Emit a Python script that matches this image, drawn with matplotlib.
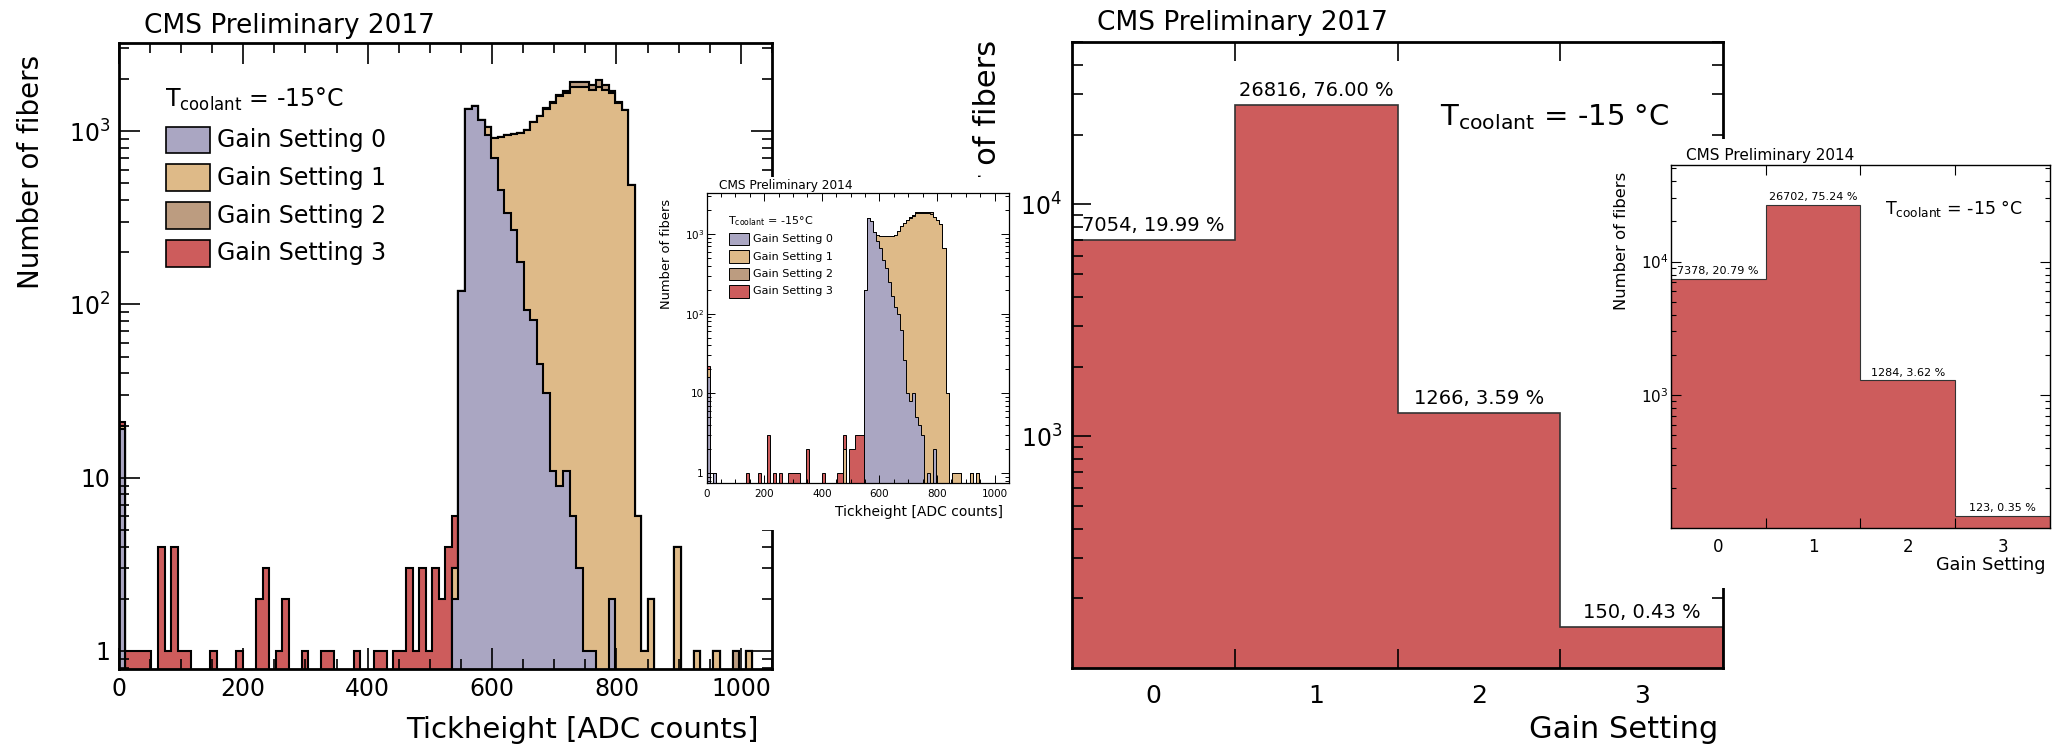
import numpy as np
import matplotlib
matplotlib.use("Agg")
import matplotlib.pyplot as plt
from matplotlib.patches import Rectangle
from matplotlib.ticker import LogLocator, NullFormatter

# ---- data ----
# tickheight histograms: 100 bins of 10.5 ADC counts between 0 and 1050,
# written as {bin index: number of fibers}, one dict per gain setting
tick_range = (0, 1050)
n_bins = 100

gain0_2017 = {0: 19, 51: 2, 52: 120, 53: 1340, 54: 1400, 55: 1160, 56: 950, 57: 700,
              58: 455, 59: 335, 60: 270, 61: 175, 62: 93, 63: 81, 64: 45, 65: 31,
              66: 11, 67: 9, 68: 11, 69: 6, 70: 3, 71: 1, 72: 1, 75: 2}
gain1_2017 = {0: 1, 51: 1, 56: 100, 57: 210, 58: 475, 59: 615, 60: 690, 61: 805,
              62: 927, 63: 1049, 64: 1175, 65: 1309, 66: 1439, 67: 1581, 68: 1649,
              69: 1784, 70: 1787, 71: 1789, 72: 1719, 73: 1790, 74: 1720, 75: 1648,
              76: 1450, 77: 1320, 78: 490, 79: 6, 80: 1, 81: 2, 85: 4, 88: 1, 91: 1, 96: 1}
gain2_2017 = {65: 20, 66: 30, 67: 35, 68: 40, 69: 135, 70: 135, 71: 135, 72: 135,
              73: 180, 74: 130, 75: 50, 76: 20, 77: 10, 94: 1}
gain3_2017 = {0: 1, 1: 1, 2: 1, 3: 1, 4: 1, 6: 4, 7: 1, 8: 4, 9: 1, 10: 1, 14: 1, 18: 1,
              21: 2, 22: 3, 24: 1, 25: 2, 28: 1, 31: 1, 32: 1, 36: 1, 39: 1, 40: 1,
              42: 1, 43: 1, 44: 3, 45: 1, 46: 3, 47: 1, 48: 3, 49: 2, 50: 4, 51: 3}

gain0_2014 = {0: 16, 2: 1, 52: 200, 53: 1585, 54: 1450, 55: 1050, 56: 810, 57: 670,
              58: 475, 59: 375, 60: 250, 61: 165, 62: 123, 63: 100, 64: 63, 65: 26,
              66: 10, 67: 8, 68: 10, 69: 5, 70: 4, 71: 3, 73: 1, 75: 2}
gain1_2014 = {0: 4, 45: 2, 56: 170, 57: 265, 58: 460, 59: 560, 60: 685, 61: 770,
              62: 857, 63: 980, 64: 1187, 65: 1344, 66: 1490, 67: 1582, 68: 1680,
              69: 1825, 70: 1826, 71: 1827, 72: 1830, 73: 1829, 74: 1800, 75: 1628,
              76: 1500, 77: 1330, 78: 670, 79: 10, 81: 1, 82: 1, 83: 1, 87: 1, 89: 1}
gain2_2014 = {67: 40, 68: 60, 69: 80, 70: 80, 71: 80, 72: 80, 73: 80, 74: 60}
gain3_2014 = {0: 2, 13: 1, 17: 1, 20: 3, 22: 1, 24: 1, 27: 1, 28: 1, 29: 1, 30: 1,
              33: 2, 38: 1, 43: 1, 44: 1, 45: 1, 47: 2, 48: 2, 49: 3, 50: 3, 51: 3}

# fibers per gain setting
gain_settings = [0, 1, 2, 3]
fibers_2017 = [7054, 26816, 1266, 150]
percent_2017 = [19.99, 76.00, 3.59, 0.43]
fibers_2014 = [7378, 26702, 1284, 123]
percent_2014 = [20.79, 75.24, 3.62, 0.35]

gain_labels = ["Gain Setting 0", "Gain Setting 1", "Gain Setting 2", "Gain Setting 3"]
colors = ["#aaa6c2", "#deba88", "#bc9c80", "#cd5c5c"]
t_label = r"T$_{\rm coolant}$ = -15°C"

W, H = 2052, 748
edges = np.linspace(tick_range[0], tick_range[1], n_bins + 1)
gain_edges = np.arange(len(gain_settings) + 1) - 0.5
FLOOR = 1e-2


def fx(x):
    return x / W


def fy(y):
    return 1 - y / H


def rect(x0, y0, x1, y1):
    # pixel box (y measured from the top) -> figure fraction rectangle
    return [fx(x0), fy(y1), (x1 - x0) / W, (y1 - y0) / H]


def to_array(d):
    a = np.zeros(n_bins)
    for k, v in d.items():
        a[k] = v
    return a


def draw_stack(ax, layers, lw):
    tops = np.cumsum([to_array(d) for d in layers], axis=0)
    for top, col in reversed(list(zip(tops, colors))):
        ax.stairs(np.where(top > 0, top, FLOOR), edges, baseline=FLOOR, fill=True,
                  facecolor=col, edgecolor="black", linewidth=lw)


def style(ax, spine_lw, tick_w, major, minor, labelsize, xpad, ypad):
    for s in ax.spines.values():
        s.set_linewidth(spine_lw)
    ax.tick_params(which="both", direction="in", top=True, right=True,
                   width=tick_w, labelsize=labelsize)
    ax.tick_params(which="major", length=major)
    ax.tick_params(which="minor", length=minor)
    ax.tick_params(axis="x", which="both", pad=xpad)
    ax.tick_params(axis="y", which="both", pad=ypad)


def tick_axes(ax, ylim, lw, major, minor, labelsize, xpad, ypad, spine_lw):
    ax.set_xlim(*tick_range)
    ax.set_yscale("log")
    ax.set_ylim(*ylim)
    ax.set_xticks(range(0, 1001, 200))
    ax.set_xticks(range(0, 1051, 50), minor=True)
    ax.set_yticks([1, 10, 100, 1000], labels=["1", "10", r"$10^{2}$", r"$10^{3}$"])
    ax.yaxis.set_minor_locator(LogLocator(base=10, subs=np.arange(2, 10)))
    ax.yaxis.set_minor_formatter(NullFormatter())
    style(ax, spine_lw, lw, major, minor, labelsize, xpad, ypad)


def gain_axes(ax, fibers, percent, ylim, lw, major, minor, labelsize, xlabsize,
              xpad, ypad, spine_lw, barlabel, boff):
    ax.stairs(fibers, gain_edges, baseline=1, fill=True, facecolor=colors[3],
              edgecolor="#333333", linewidth=lw)
    ax.set_xlim(gain_edges[0], gain_edges[-1])
    ax.set_yscale("log")
    ax.set_ylim(*ylim)
    ax.set_xticks(gain_edges[1:-1])
    ax.xaxis.set_major_formatter(NullFormatter())
    ax.set_xticks(gain_settings, labels=[str(g) for g in gain_settings], minor=True)
    ax.set_yticks([1000, 10000], labels=[r"$10^{3}$", r"$10^{4}$"])
    ax.yaxis.set_minor_locator(LogLocator(base=10, subs=np.arange(2, 10)))
    ax.yaxis.set_minor_formatter(NullFormatter())
    style(ax, spine_lw, lw, major, minor, labelsize, xpad, ypad)
    ax.tick_params(axis="x", which="minor", length=0, labelsize=xlabsize)
    for g, n, p in zip(gain_settings, fibers, percent):
        ax.annotate(f"{n}, {p:.2f} %", xy=(g, n), xytext=(0, boff),
                    textcoords="offset points", ha="center", va="baseline",
                    fontsize=barlabel)


def legend(x_box, x_txt, y_head, y_rows, bw, bh, size, lw):
    fig.text(fx(x_box - 1), fy(y_head), t_label, fontsize=size, va="baseline")
    for yc, lab, col in zip(y_rows, gain_labels, colors):
        fig.add_artist(Rectangle((fx(x_box), fy(yc + bh / 2)), bw / W, bh / H,
                                 transform=fig.transFigure, facecolor=col,
                                 edgecolor="black", linewidth=lw, zorder=3))
        fig.text(fx(x_txt), fy(yc), lab, fontsize=size, va="center")


fig = plt.figure(figsize=(W / 100, H / 100), dpi=100)

# ---------------- left: tickheight 2017 ----------------
ax_l = fig.add_axes(rect(118.8, 43, 772, 669), zorder=0)
draw_stack(ax_l, [gain0_2017, gain1_2017, gain2_2017, gain3_2017], 1.5)
tick_axes(ax_l, (0.787, 3224), 1.2, 15, 7.5, 17, 6, 6, 2.0)
fig.text(fx(144), fy(33), "CMS Preliminary 2017", fontsize=19, va="baseline")
fig.text(fx(31), fy(55), "Number of fibers", rotation=90, fontsize=20,
         ha="center", va="top")
fig.text(fx(759), fy(730), "Tickheight [ADC counts]", fontsize=21,
         ha="right", va="center")
legend(166, 217, 107, [140, 177.8, 215.6, 253.4], 44, 26.7, 17, 1.2)

# white patch behind the 2014 inset
fig.add_artist(Rectangle((fx(648), fy(530)), (1014 - 648) / W, (530 - 177) / H,
                         transform=fig.transFigure, facecolor="white",
                         edgecolor="none", zorder=1))

ax_li = fig.add_axes(rect(706.7, 193.3, 1009, 483.3), zorder=2)
draw_stack(ax_li, [gain0_2014, gain1_2014, gain2_2014, gain3_2014], 0.7)
tick_axes(ax_li, (0.745, 3236), 0.7, 6, 3, 7.5, 4, 2, 0.9)
fig.text(fx(719), fy(189), "CMS Preliminary 2014", fontsize=8.7, va="baseline")
fig.text(fx(667), fy(199), "Number of fibers", rotation=90, fontsize=9.4,
         ha="center", va="top")
fig.text(fx(1003), fy(512), "Tickheight [ADC counts]", fontsize=10,
         ha="right", va="center")
legend(729.3, 753.3, 224, [238.8, 256.5, 274.2, 291.5], 20, 12.3, 8, 0.7)

# ---------------- right: gain settings 2017 ----------------
ax_r = fig.add_axes(rect(1072, 42.3, 1723, 668.3), zorder=0)
gain_axes(ax_r, fibers_2017, percent_2017, (100, 5e4), 1.2, 14, 8, 17, 18,
          11, 7, 2.0, 14, 6.5)
fig.text(fx(1097), fy(30), "CMS Preliminary 2017", fontsize=19, va="baseline")
fig.text(fx(988), fy(40), "Number of fibers", rotation=90, fontsize=22,
         ha="center", va="top", zorder=0.5)
fig.text(fx(1718), fy(730), "Gain Setting", fontsize=22, ha="right", va="center")
fig.text(fx(1440), fy(125), r"T$_{\rm coolant}$ = -15 °C", fontsize=21,
         va="baseline")

fig.add_artist(Rectangle((fx(1598), fy(588)), (W - 1598) / W, (588 - 139) / H,
                         transform=fig.transFigure, facecolor="white",
                         edgecolor="none", zorder=1))

ax_ri = fig.add_axes(rect(1670.7, 165, 2050, 528.3), zorder=2)
gain_axes(ax_ri, fibers_2014, percent_2014, (100, 5.3e4), 0.8, 7, 3.6, 11, 12,
          7, 1.5, 1.0, 8, 3.5)
fig.text(fx(1686), fy(160), "CMS Preliminary 2014", fontsize=11, va="baseline")
fig.text(fx(1621), fy(172), "Number of fibers", rotation=90, fontsize=11.8,
         ha="center", va="top")
fig.text(fx(2046), fy(565), "Gain Setting", fontsize=12.7, ha="right", va="center")
fig.text(fx(1885), fy(214), r"T$_{\rm coolant}$ = -15 °C", fontsize=12.5,
         va="baseline")

fig.savefig("out.png", dpi=100)
